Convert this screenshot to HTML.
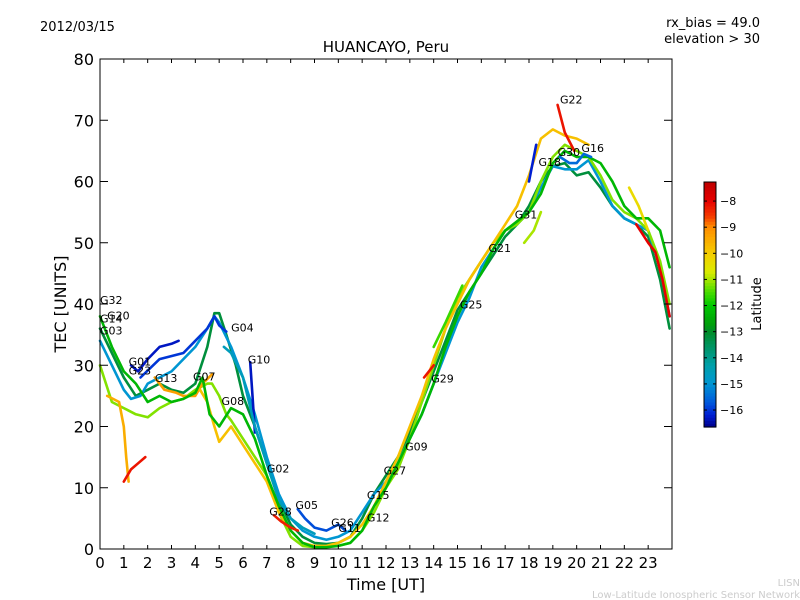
<!DOCTYPE html>
<html><head><meta charset="utf-8"><style>
body{margin:0;background:#fff;}
svg{display:block;font-family:"DejaVu Sans","Liberation Sans",sans-serif;}
</style></head><body>
<svg id="c" width="800" height="600"></svg>
<script>
const xTicks=[0,1,2,3,4,5,6,7,8,9,10,11,12,13,14,15,16,17,18,19,20,21,22,23];
const yTicks=[0,10,20,30,40,50,60,70,80];
const cbTicks=[-8,-9,-10,-11,-12,-13,-14,-15,-16];
const traceLats=[-13.2,-15.0,-16.3,-16.0,-16.3,-14.6,-11.2,-9.5,-9.3,-9.8,-12.3,-8.2,-8.0,-16.2,-10.3,-11.6,-15.5,-8.3,-15.8,-11.0,-8.2,-8.2];
const traceTimes=[
[0,0.5,1,1.5,2,2.5,3,3.5,4,4.5,4.8,5,5.3,5.7,6,6.5,7,7.5,8,8.5,9,9.5,10,10.5,11,11.5,12,12.5,13,13.5,14,14.5,15,15.5,16,16.5,17,17.5,18,18.5,19,19.5,20,20.5,21,21.5,22,22.5,23,23.5,23.9],
[0,0.5,1,1.3,1.7,2,2.5,3,3.5,4,4.5,4.8,5,5.5,6,6.5,7,7.5,8,8.5,9,9.5,10,10.5,11,11.5,12,12.5,13,13.5,14,14.5,15,15.5,16,16.5,17,17.5,18,18.5,19,19.5,20,20.5,21,21.5,22,22.5,23,23.5,23.9],
[1.3,1.6,2,2.5,3,3.3],
[1.7,2.5,3.5,4,4.5,4.8,5,5.3],
[6.3,6.4,6.5],
[5.2,5.5,6,6.5,7,7.5,8,8.5,9],
[0,0.5,1,1.5,2,2.5,3,3.5,4,4.5,4.7,5,5.3,5.5,6,6.5,7,7.5,8,8.5,9,9.5,10,10.5,11,11.5,12,12.5,13,13.5,14,14.5,15,15.5,16,16.5,17,17.5,18,18.5,19,19.5,20,20.5,21,21.5,22,22.5,23,23.5,23.9],
[0.3,0.8,1,1.1,1.2],
[2.3,2.7,3.2,3.5,4,4.3,4.7],
[4.2,4.5,4.8,5,5.5,6,6.5,7,7.5,8,8.5,9,9.5,10,10.5,11,11.5,12,12.5,13,13.5,14,14.5,15,15.5,16,16.5,17,17.5,18,18.5,19,19.5,20,20.5],
[0,0.5,1,1.5,2,2.5,3,3.5,4,4.3,4.6,5,5.5,6,6.5,7,7.5,8,8.5,9,9.5,10,10.5,11,11.5,12,12.5,13,13.5,14,14.5,15,15.5,16,16.5,17,17.5,18,18.5,19,19.5,20,20.5,21,21.5,22,22.5,23,23.5,23.9],
[19.2,19.5,19.9],
[22.5,23,23.3,23.6,23.9],
[18,18.3],
[22.2,22.6,23],
[14,14.5,15.2],
[19.3,19.7,20,20.3,20.6],
[7.3,7.6,8,8.3],
[8.3,8.6,9,9.5,10,10.3],
[17.8,18.2,18.5],
[13.6,13.8,14],
[1,1.3,1.6,1.9]
];
const traceVals=[
[36,32,28,25,26,27,26,25.5,27,33,38.5,38.5,35,30,25,20,14,8,4,2,1,0.8,1,2,5,9,12,15,19,24,29,34,39,42,45,48,51,53,56,60,62.5,63,61,61.5,59,56,54,53,51,44,36],
[34,30,26,24.5,25,27,28,29,31,33,36,38,37,33,28,22,15,9,5,3,2,1.5,2,3,6,9,11,14,18,22,27,32,37,41,46,49,52,53,55,59,62.5,62,62,63.5,60,56,54,53,52,46,38],
[30,29,31,33,33.5,34],
[28,31,32,34,36,38,36.5,35.5],
[30.5,25,19],
[33,32,28,20,14,8,5,3.5,2.5],
[30,24,23,22,21.5,23,24,24.5,26,27,27,25,22,21,18,15,12,6,2,0.5,0.3,0.4,0.5,1,3,6,10,13,18,24,30,36,41,44,47,50,52,53,55,60,64,66,65,64,61,57,55,54,52,47,40],
[25,24,20,15,11],
[28,26,25.5,25,25,27,28.5],
[26,24,20,17.5,20,17,14,11,6,3,1,0.5,0.5,1,2,4,7,11,15,20,25,31,36,40,44,47,50,53,56,61,67,68.5,67.5,67,66],
[38,33,29,27,24,25,24,24.5,25.5,28,22,20,23,22,18,12,7,3,1,0.3,0.3,0.5,1,3,7,10,14,18,22,27,33,38,42,45,49,52,53.5,55,58,63,65,64,64,63,60,56,54,54,52,46,40],
[72.5,68,65],
[53,50,48.5,44,38],
[60,66],
[59,56,52],
[33,37,43],
[64,63,63,64.5,64],
[5.5,4.5,3.5,3],
[6.5,5,3.5,3,4,3],
[50,52,55],
[28,29,30],
[11,13,14,15]
];
const labels=[["G32",0,40],["G20",0.3,37.5],["G14",0,37],["G03",0,35],["G01",1.2,30],["G23",1.2,28.5],["G13",2.3,27.3],["G07",3.9,27.5],["G08",5.1,23.5],["G04",5.5,35.5],["G10",6.2,30.3],["G02",7,12.5],["G28",7.1,5.5],["G05",8.2,6.5],["G26",9.7,3.7],["G11",10,2.8],["G15",11.2,8.2],["G12",11.2,4.5],["G27",11.9,12.2],["G09",12.8,16.1],["G29",13.9,27.2],["G25",15.1,39.3],["G21",16.3,48.5],["G31",17.4,54],["G18",18.4,62.5],["G30",19.2,64.2],["G16",20.2,64.8],["G22",19.3,72.7]];

const NS="http://www.w3.org/2000/svg";
const svg=document.getElementById('c');
const L=100,R=672,T=59,B=549;
const xs=t=>L+t*(R-L)/24;
const ys=v=>B-v*(B-T)/80;
const cbT=182,cbB=427,cbMax=-7.27,cbMin=-16.65;
const cbY=v=>cbT+(cbMax-v)*(cbB-cbT)/(cbMax-cbMin);
function el(tag,a,txt){const e=document.createElementNS(NS,tag);for(const k in a)e.setAttribute(k,a[k]);if(txt!==undefined)e.textContent=txt;svg.appendChild(e);return e;}
const cstops=[[-7.27,[190,0,0]],[-8,[230,0,0]],[-8.6,[245,60,0]],[-9,[255,140,0]],[-10,[245,205,0]],[-10.7,[220,235,0]],[-11,[170,230,0]],[-11.5,[70,220,0]],[-12,[0,200,0]],[-12.7,[0,160,10]],[-13,[0,140,40]],[-13.7,[0,150,110]],[-14.3,[0,160,170]],[-15,[0,150,210]],[-15.7,[0,90,220]],[-16.2,[0,30,210]],[-16.65,[0,0,140]]];
function latCol(l){
  for(let i=0;i<cstops.length-1;i++){const [a,ca]=cstops[i],[b,cb]=cstops[i+1];
    if(l<=a&&l>=b){const f=(a-l)/(a-b);return `rgb(${ca.map((c,k)=>Math.round(c+(cb[k]-c)*f)).join(',')})`;}}
  return l>-7.27?'rgb(190,0,0)':'rgb(0,0,140)';
}

let e;
e=el('text',{x:40,y:31,'font-size':13,fill:'#000'},'2012/03/15');

e=el('text',{x:760,y:27,'font-size':13,'text-anchor':'end'},'rx_bias = 49.0');

e=el('text',{x:760,y:43,'font-size':13,'text-anchor':'end'},'elevation > 30');

e=el('text',{x:386,y:52,'font-size':15,'text-anchor':'middle'},'HUANCAYO, Peru');

e=el('text',{x:800,y:586,'font-size':10,'text-anchor':'end',fill:'#ccc'},'LISN');

e=el('text',{x:800,y:598,'font-size':10,'text-anchor':'end',fill:'#ccc'},'Low-Latitude Ionospheric Sensor Network');


for(let i=0;i<traceTimes.length;i++){
  const d=traceTimes[i].map((t,j)=>(j?'L':'M')+xs(t).toFixed(1)+' '+ys(traceVals[i][j]).toFixed(1)).join(' ');
  const p=el('path',{d:d,fill:'none',stroke:latCol(traceLats[i]),'stroke-width':2.6,'stroke-linejoin':'round','stroke-linecap':'round'});
  
  
}
for(const [n,t,v] of labels){
  const tx=el('text',{x:xs(t),y:ys(v),'font-size':11},n);
  
  
}

e=el('rect',{x:L,y:T,width:R-L,height:B-T,fill:'none',stroke:'#000','stroke-width':1});

for(const t of xTicks){
  const x=xs(t);
  el('line',{x1:x,y1:B,x2:x,y2:B-4,stroke:'#000'});
  el('line',{x1:x,y1:T,x2:x,y2:T+4,stroke:'#000'});
  const tx=el('text',{x:x,y:B+19,'font-size':15,'text-anchor':'middle'},String(t));
  
  
}
for(const v of yTicks){
  const y=ys(v);
  el('line',{x1:L,y1:y,x2:L+8,y2:y,stroke:'#000'});
  el('line',{x1:R,y1:y,x2:R-8,y2:y,stroke:'#000'});
  const tx=el('text',{x:L-6,y:y+6,'font-size':16,'text-anchor':'end'},String(v));
  
  
}
e=el('text',{x:386,y:590,'font-size':16,'text-anchor':'middle'},'Time [UT]');

e=el('text',{x:0,y:0,'font-size':16,'text-anchor':'middle',transform:'translate(66,304) rotate(-90)'},'TEC [UNITS]');


const N=80;
for(let i=0;i<N;i++){
  const lat=cbMax-(i+0.5)/N*(cbMax-cbMin);
  const r=el('rect',{x:704,y:cbT+i*(cbB-cbT)/N,width:12,height:(cbB-cbT)/N+0.6,fill:latCol(lat)});
  
  
}
e=el('rect',{x:704,y:cbT,width:12,height:cbB-cbT,fill:'none',stroke:'#000'});

for(const v of cbTicks){
  const y=cbY(v);
  el('line',{x1:704,y1:y,x2:707,y2:y,stroke:'#000'});
  el('line',{x1:716,y1:y,x2:713,y2:y,stroke:'#000'});
  const tx=el('text',{x:720,y:y+4,'font-size':11},'\u2212'+Math.abs(v));
  
  
}
e=el('text',{x:0,y:0,'font-size':13,'text-anchor':'middle',transform:'translate(761,304) rotate(-90)'},'Latitude');

</script>
</body></html>
